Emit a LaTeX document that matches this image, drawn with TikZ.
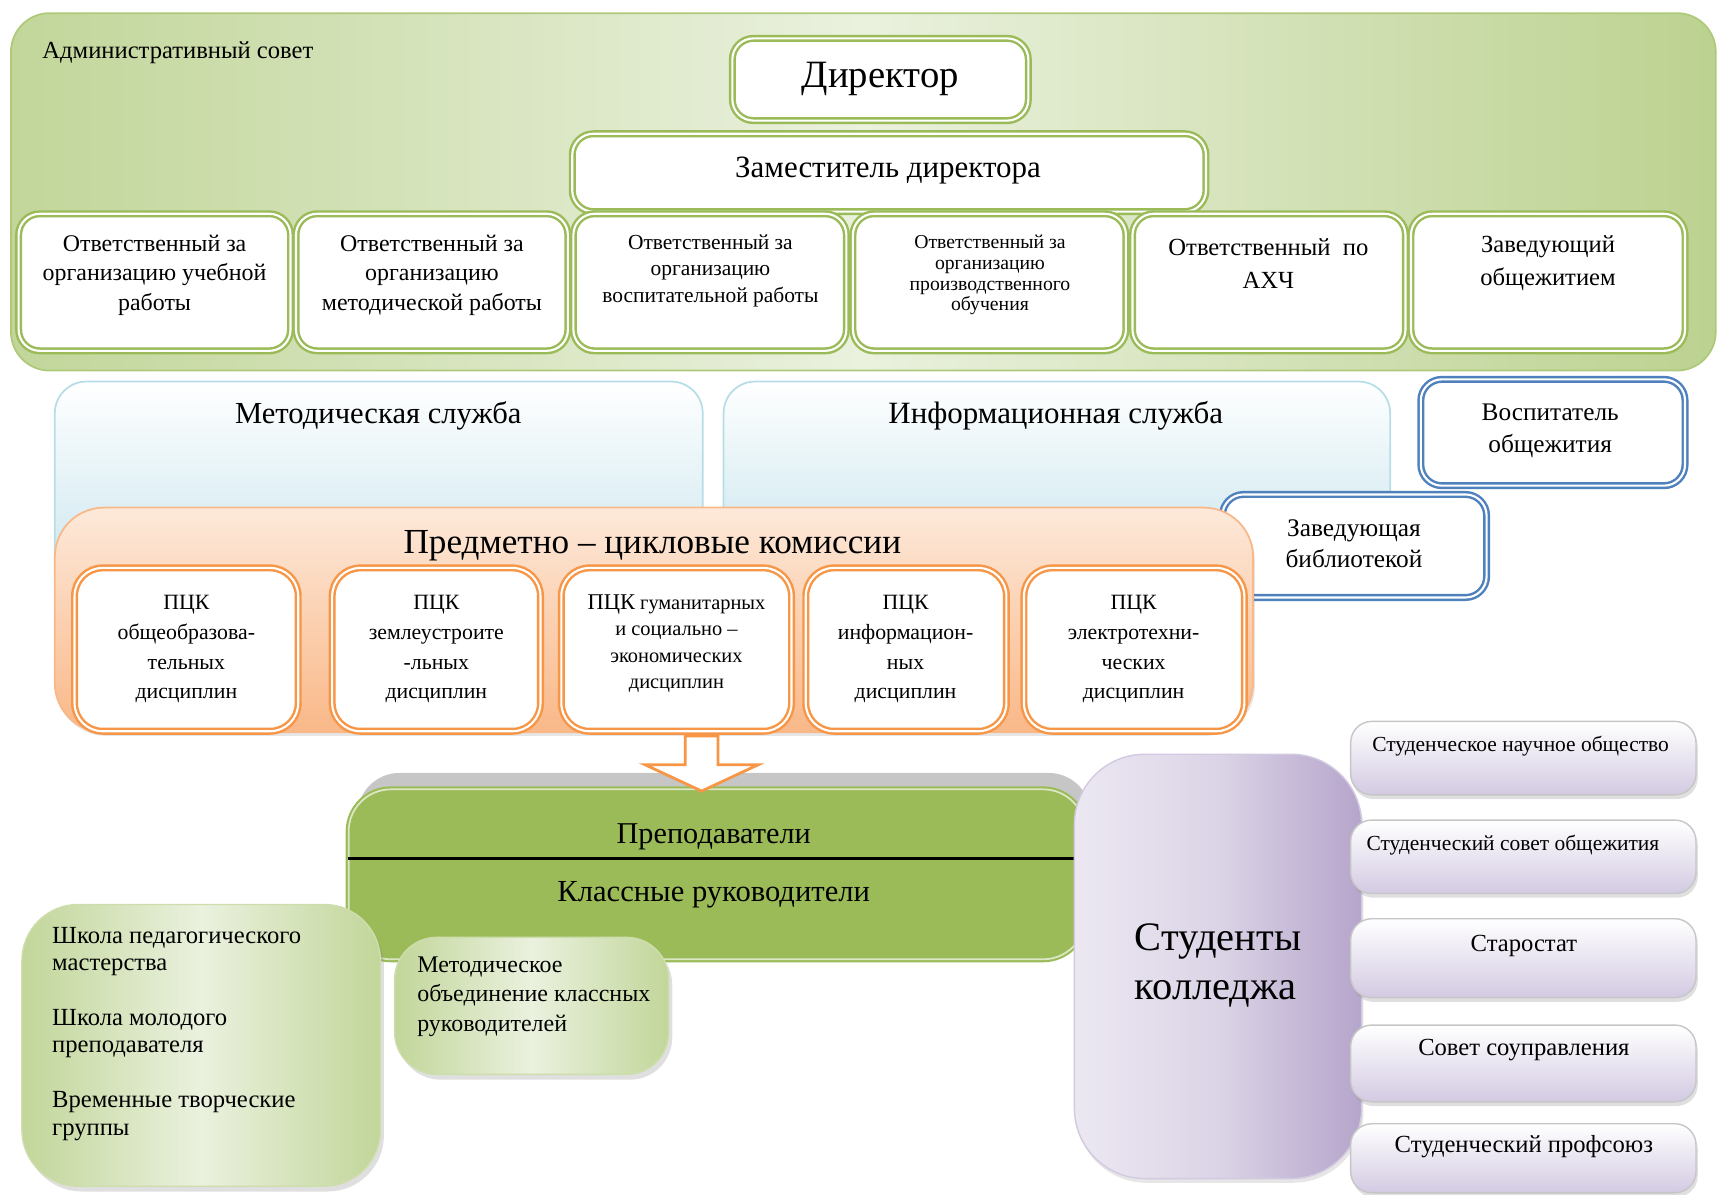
\documentclass[tikz,border=0pt]{standalone}
\usepackage{fontspec}
\setmainfont{Liberation Serif}
\usetikzlibrary{positioning, fit, shapes.arrows, shadows}

\definecolor{grnline}{HTML}{9BBB59}
\definecolor{grnmid}{HTML}{C2D69A}
\definecolor{grnpale}{HTML}{EAF1DE}
\definecolor{orgline}{HTML}{F79646}
\definecolor{orgmid}{HTML}{F9B888}
\definecolor{orgpale}{HTML}{FDE9DA}
\definecolor{blueline}{HTML}{4F81BD}
\definecolor{bluefade}{HTML}{B7DDE8}
\definecolor{bluepale}{HTML}{C8E5EE}
\definecolor{purpdark}{HTML}{B5A5CB}
\definecolor{purppale}{HTML}{ECE8F2}
\definecolor{purpbox}{HTML}{D3CAE2}

\begin{document}
\begin{tikzpicture}[x=0.010963cm, y=-0.010963cm,
    box/.style={rounded corners=6pt, inner sep=0pt},
    dbl/.style={line width=0.7pt, double=white, double distance=0.6pt, fill=white},
    grnbox/.style={box, dbl, draw=grnline},
    orgbox/.style={box, dbl, draw=orgline, rounded corners=8pt},
    bluebox/.style={box, dbl, draw=blueline},
    softbox/.style={box, rounded corners=12pt, draw=grnline!50, line width=0.4pt,
        left color=grnmid, right color=grnmid, middle color=grnpale,
        drop shadow={opacity=0.25, shadow xshift=1pt, shadow yshift=-1.5pt}},
    stubox/.style={box, draw=gray!45, line width=0.4pt, top color=white, bottom color=purpbox,
        drop shadow={opacity=0.25, shadow xshift=0.5pt, shadow yshift=-1.2pt}},
    txt/.style={align=center, inner sep=0pt},
    pcktext/.style={txt, font=\fontsize{6.2}{8.5}\selectfont}
]
    \useasboundingbox (0,0) rectangle (1568,1090);

    % Administrative council
    \node[box, rounded corners=11pt, fit={(10,12) (1565,338)}, draw=grnline!80, line width=0.5pt,
        left color=grnmid, right color=grnmid!85!grnline, middle color=grnpale] (adm) {};
    \node[txt, anchor=west, font=\fontsize{7}{8}\selectfont] (admtxt) at (38,48) {Административный совет};

    \node[grnbox, fit={(668,35) (938,110)}] (dir) {};
    \node[txt, font=\fontsize{11}{13}\selectfont] (dirtxt) at (803,72) {Директор};
    \node[grnbox, fit={(522,122) (1100,193)}] (dep) {};
    \node[txt, font=\fontsize{8.8}{10}\selectfont] (deptxt) at (810,156) {Заместитель директора};

    % Draw row of heads
    \node[grnbox, fit={(17,195) (265,320)}] (r1) {};
    \node[grnbox, fit={(270,195) (518,320)}] (r2) {};
    \node[grnbox, fit={(523,195) (772,320)}] (r3) {};
    \node[grnbox, fit={(778,195) (1027,320)}] (r4) {};
    \node[grnbox, fit={(1033,195) (1282,320)}] (r5) {};
    \node[grnbox, fit={(1287,195) (1537,320)}] (r6) {};
    \node[txt, font=\fontsize{6.8}{8.4}\selectfont] (r1txt) at (141,251) {Ответственный за\\организацию учебной\\работы};
    \node[txt, font=\fontsize{6.8}{8.4}\selectfont] (r2txt) at (394,251) {Ответственный за\\организацию\\методической работы};
    \node[txt, font=\fontsize{6.1}{7.5}\selectfont] (r3txt) at (648,247) {Ответственный за\\организацию\\воспитательной работы};
    \node[txt, font=\fontsize{5.6}{5.9}\selectfont] (r4txt) at (903,251) {Ответственный за\\организацию\\производственного\\обучения};
    \node[txt, font=\fontsize{7}{9.4}\selectfont] (r5txt) at (1157,240) {Ответственный~~по\\АХЧ};
    \node[txt, font=\fontsize{7}{9.4}\selectfont] (r6txt) at (1412,240) {Заведующий\\общежитием};

    % Draw services
    \node[box, rounded corners=9pt, fit={(50,348) (641,540)}, draw=bluefade, line width=0.5pt,
        top color=white, bottom color=bluepale] (met) {};
    \node[txt, font=\fontsize{8.7}{11}\selectfont] (mettxt) at (345,379) {Методическая служба};
    \node[box, rounded corners=9pt, fit={(660,348) (1268,520)}, draw=bluefade, line width=0.5pt,
        top color=white, bottom color=bluepale] (inf) {};
    \node[txt, font=\fontsize{8.8}{11}\selectfont] (inftxt) at (963,379) {Информационная служба};

    \node[bluebox, fit={(1296,346) (1537,443)}] (vos) {};
    \node[txt, font=\fontsize{7.2}{9}\selectfont] (vostxt) at (1414,393) {Воспитатель\\общежития};
    \node[bluebox, fit={(1115,451) (1356,545)}] (lib) {};
    \node[txt, font=\fontsize{7.2}{9}\selectfont] (libtxt) at (1235,496) {Заведующая\\библиотекой};

    % Draw subject commissions
    \node[box, rounded corners=14pt, fit={(50,463) (1143,668)}, draw=orgmid, line width=0.5pt,
        top color=orgpale, bottom color=orgmid,
        drop shadow={opacity=0.2, shadow xshift=0.5pt, shadow yshift=-1pt}] (pck) {};
    \node[txt, font=\fontsize{10}{12}\selectfont] (pcktxt) at (595,498) {Предметно – цикловые комиссии};
    \node[orgbox, fit={(68,518) (272,667)}] (p1) {};
    \node[orgbox, fit={(303,518) (493,667)}] (p2) {};
    \node[orgbox, fit={(512,518) (722,667)}] (p3) {};
    \node[orgbox, fit={(735,518) (918,667)}] (p4) {};
    \node[orgbox, fit={(934,518) (1135,667)}] (p5) {};
    \node[pcktext] (p1txt) at (170,592) {ПЦК\\общеобразова-\\тельных\\дисциплин};
    \node[pcktext] (p2txt) at (398,592) {ПЦК\\землеустроите\\-льных\\дисциплин};
    \node[txt, font=\fontsize{5.8}{7.5}\selectfont] (p3txt) at (617,587) {{\fontsize{6.4}{7.5}\selectfont ПЦК} гуманитарных\\и социально –\\экономических\\дисциплин};
    \node[pcktext] (p4txt) at (826,592) {ПЦК\\информацион-\\ных\\дисциплин};
    \node[pcktext] (p5txt) at (1034,592) {ПЦК\\электротехни-\\ческих\\дисциплин};

    % Draw teachers block
    \node[box, rounded corners=12pt, fit={(326,705) (995,862)}, fill=gray!45] (shade) {};
    \node[box, rounded corners=12pt, fit={(318,720) (990,875)}, fill=grnline,
        draw=grnline, line width=0.6pt, double=grnline!35!white, double distance=0.5pt] (teach) {};
    \coordinate (cut) at (0,783);
    \draw[line width=1pt] (teach.west |- cut) -- (teach.east |- cut);
    \node[txt, font=\fontsize{8.6}{11}\selectfont] (teachtxt) at (651,763) {Преподаватели};
    \node[txt, font=\fontsize{8.7}{11}\selectfont] (classtxt) at (651,816) {Классные руководители};

    % Draw arrow
    \node[single arrow, draw=orgline, fill=white, line width=0.8pt, rotate=-90, inner sep=0.15cm,
        minimum height=0.55cm, single arrow head extend=0.4cm, single arrow tip angle=130] (down) at (640,693) {};

    % Draw schools
    \node[softbox, rounded corners=16pt, fit={(20,825) (347,1082)}] (sch) {};
    \node[txt, align=left, anchor=west, font=\fontsize{7}{7.8}\selectfont] (schtxt) at (47,943)
        {Школа педагогического\\мастерства\\[7.8pt]Школа молодого\\преподавателя\\[7.8pt]Временные творческие\\группы};
    \node[softbox, fit={(360,855) (610,980)}] (mo) {};
    \node[txt, align=left, anchor=west, font=\fontsize{6.8}{8.4}\selectfont] (motxt) at (380,909)
        {Методическое\\объединение классных\\руководителей};

    % Draw students
    \node[box, rounded corners=20pt, fit={(980,688) (1242,1075)}, draw=purpdark!60, line width=0.4pt,
        left color=purppale, right color=purpdark, middle color=purppale!70!purpdark,
        drop shadow={opacity=0.2, shadow xshift=0.5pt, shadow yshift=-1.2pt}] (stu) {};
    \node[txt, align=left, font=\fontsize{11.5}{14}\selectfont] (stutxt) at (1111,881) {Студенты\\колледжа};

    \node[stubox, fit={(1232,658) (1547,725)}] (s1) {};
    \node[stubox, fit={(1232,748) (1547,815)}] (s2) {};
    \node[stubox, fit={(1232,838) (1547,910)}] (s3) {};
    \node[stubox, fit={(1232,935) (1547,1005)}] (s4) {};
    \node[stubox, fit={(1232,1025) (1547,1088)}] (s5) {};
    \node[txt, font=\fontsize{6.1}{8}\selectfont] (s1txt) at (1387,681) {Студенческое научное общество};
    \node[txt, font=\fontsize{6.1}{8}\selectfont] (s2txt) at (1380,771) {Студенческий совет общежития};
    \node[txt, font=\fontsize{7}{8}\selectfont] (s3txt) at (1390,863) {Старостат};
    \node[txt, font=\fontsize{7}{8}\selectfont] (s4txt) at (1390,958) {Совет соуправления};
    \node[txt, font=\fontsize{7}{8}\selectfont] (s5txt) at (1390,1046) {Студенческий профсоюз};
\end{tikzpicture}
\end{document}
